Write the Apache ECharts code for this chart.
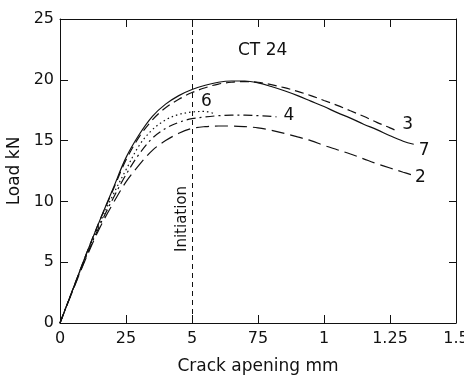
<!DOCTYPE html>
<html>
<head>
<meta charset="utf-8">
<script src="https://cdn.jsdelivr.net/npm/echarts@6/dist/echarts.min.js"></script>
<style>
  html, body { margin: 0; padding: 0; background: #fff; }
  #chart { width: 464px; height: 384px; }
</style>
</head>
<body>
<div id="chart"></div>
<script>
// crack opening (mm) sample points for each curve
const x7 = [0, 0.05, 0.1, 0.15, 0.2, 0.25, 0.3, 0.35, 0.4, 0.45, 0.5, 0.55, 0.6, 0.65, 0.7,
  0.75, 0.8, 0.85, 0.9, 0.95, 1.0, 1.05, 1.1, 1.15, 1.2, 1.25, 1.3, 1.34];
const x3 = [0, 0.05, 0.1, 0.15, 0.2, 0.25, 0.3, 0.35, 0.4, 0.45, 0.5, 0.55, 0.6, 0.65, 0.7,
  0.75, 0.8, 0.85, 0.9, 0.95, 1.0, 1.05, 1.1, 1.15, 1.2, 1.25, 1.27];
const x6 = [0, 0.05, 0.1, 0.15, 0.2, 0.25, 0.3, 0.35, 0.4, 0.45, 0.5, 0.55, 0.58];
const x4 = [0, 0.05, 0.1, 0.15, 0.2, 0.25, 0.3, 0.35, 0.4, 0.45, 0.5, 0.55, 0.6, 0.65, 0.7,
  0.75, 0.8, 0.82];
const x2 = [0, 0.05, 0.1, 0.15, 0.2, 0.25, 0.3, 0.35, 0.4, 0.45, 0.5, 0.55, 0.6, 0.65, 0.7,
  0.75, 0.8, 0.85, 0.9, 0.95, 1.0, 1.05, 1.1, 1.15, 1.2, 1.25, 1.3, 1.33];

// load (kN)
const load7 = [0, 2.85, 5.7, 8.4, 11.0, 13.6, 15.5, 17.0, 18.0, 18.7, 19.2, 19.55, 19.8, 19.9, 19.9,
  19.75, 19.45, 19.1, 18.7, 18.25, 17.8, 17.3, 16.85, 16.35, 15.9, 15.4, 14.95, 14.7];
const load3 = [0, 2.85, 5.7, 8.4, 10.9, 13.4, 15.3, 16.7, 17.7, 18.4, 18.95, 19.35, 19.65, 19.8, 19.85,
  19.8, 19.6, 19.35, 19.05, 18.7, 18.3, 17.9, 17.45, 17.0, 16.5, 16.05, 15.85];
const load6 = [0, 2.8, 5.6, 8.2, 10.5, 12.6, 14.6, 15.9, 16.7, 17.15, 17.35, 17.4, 17.25];
const load4 = [0, 2.8, 5.5, 8.0, 10.2, 12.2, 13.9, 15.2, 16.0, 16.5, 16.8, 16.95, 17.05, 17.1, 17.1,
  17.05, 17.0, 16.95];
const load2 = [0, 2.75, 5.4, 7.8, 9.8, 11.6, 13.0, 14.2, 15.0, 15.6, 16.0, 16.15, 16.2, 16.2, 16.15,
  16.05, 15.85, 15.6, 15.3, 15.0, 14.6, 14.25, 13.9, 13.5, 13.1, 12.75, 12.4, 12.2];

const xTickLabels = ['0', '25', '5', '75', '1', '1.25', '1.5'];
const initiation = 0.5;

const font = 'DejaVu Sans';
const ink = '#111';

const pairs = (xs, ys) => xs.map((x, i) => [x, ys[i]]);

function curve(name, xs, ys, dash, labelOffset) {
  return {
    name: name,
    type: 'line',
    data: pairs(xs, ys),
    smooth: 0.35,
    symbol: 'none',
    lineStyle: { color: ink, width: 1.2, type: dash },
    endLabel: {
      show: true,
      formatter: name,
      color: ink,
      fontFamily: font,
      fontSize: 17,
      offset: labelOffset
    },
    z: 3
  };
}

const chart = echarts.init(document.getElementById('chart'));

const axisLine = { show: true, onZero: false, lineStyle: { color: ink, width: 1 } };

chart.setOption({
  animation: false,
  grid: { left: 60, right: 8, top: 19, bottom: 61, containLabel: false, outerBoundsMode: 'none' },
  xAxis: [
    {
      type: 'value', position: 'bottom', min: 0, max: 1.5, interval: 0.25,
      name: 'Crack apening mm', nameLocation: 'middle', nameGap: 35,
      nameTextStyle: { fontFamily: font, fontSize: 17, color: ink },
      axisLine: axisLine,
      axisTick: { inside: true, length: 8, lineStyle: { color: ink } },
      axisLabel: {
        fontFamily: font, fontSize: 16, color: ink, margin: 8,
        formatter: v => xTickLabels[Math.round(v / 0.25)]
      },
      splitLine: { show: false }
    },
    {
      type: 'value', position: 'top', min: 0, max: 1.5, interval: 0.25,
      axisLine: axisLine,
      axisTick: { inside: true, length: 8, lineStyle: { color: ink } },
      axisLabel: { show: false },
      splitLine: { show: false }
    }
  ],
  yAxis: [
    {
      type: 'value', position: 'left', min: 0, max: 25, interval: 5,
      name: 'Load kN', nameLocation: 'middle', nameGap: 31,
      nameTextStyle: { fontFamily: font, fontSize: 17, color: ink },
      axisLine: axisLine,
      axisTick: { inside: true, length: 8, lineStyle: { color: ink } },
      axisLabel: { fontFamily: font, fontSize: 16, color: ink, margin: 6 },
      splitLine: { show: false }
    },
    {
      type: 'value', position: 'right', min: 0, max: 25, interval: 5,
      axisLine: axisLine,
      axisTick: { inside: true, length: 7, lineStyle: { color: ink } },
      axisLabel: { show: false },
      splitLine: { show: false }
    }
  ],
  graphic: [
    {
      type: 'text', left: 238, top: 42,
      style: { text: 'CT 24', font: '17px "DejaVu Sans"', fill: ink }
    },
    {
      type: 'text', x: 175, y: 252, rotation: Math.PI / 2,
      style: { text: 'Initiation', font: '15px "DejaVu Sans"', fill: ink }
    }
  ],
  series: [
    curve('7', x7, load7, 'solid', [-3, 6]),
    curve('3', x3, load3, [9, 5], [-1, -6]),
    curve('6', x6, load6, [1.5, 3], [-20, -12]),
    curve('4', x4, load4, [9, 4, 2, 4], [-1, -1]),
    curve('2', x2, load2, [13, 6], [-4, 3]),
    {
      type: 'line',
      data: [],
      markLine: {
        silent: true,
        symbol: 'none',
        label: { show: false },
        lineStyle: { color: ink, width: 1, type: [5, 4] },
        data: [{ xAxis: initiation }]
      }
    }
  ]
});
</script>
</body>
</html>
